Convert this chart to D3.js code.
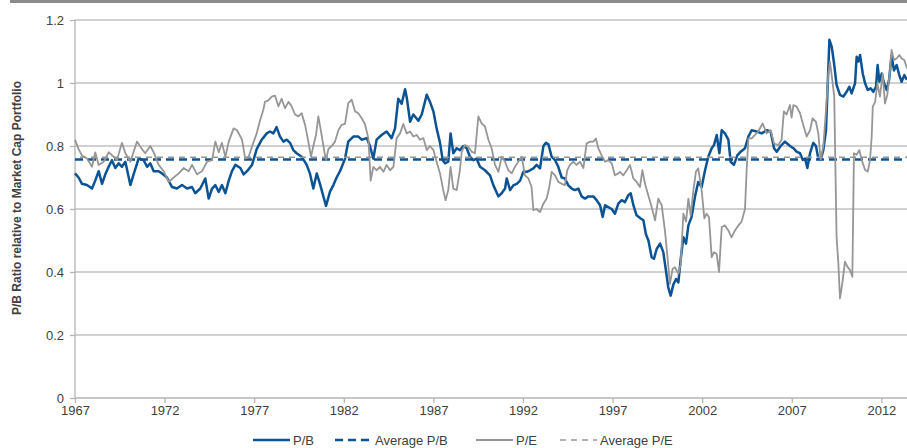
<!DOCTYPE html>
<html>
<head>
<meta charset="utf-8">
<script src="https://cdn.jsdelivr.net/npm/d3@7"></script>
<style>
  body { margin: 0; background: #fff; }
  text { font-family: "Liberation Sans", Arial, sans-serif; }
</style>
</head>
<body>
<div id="chart"></div>
<script>
// P/B relative to market cap portfolio, [year, value]
const pbData = [[1967.00,0.713],[1967.20,0.70],[1967.39,0.68],[1967.67,0.676],[1967.95,0.665],[1968.13,0.69],[1968.32,0.72],[1968.51,0.68],[1968.69,0.71],[1968.88,0.734],[1969.06,0.755],[1969.25,0.73],[1969.44,0.745],[1969.62,0.734],[1969.81,0.75],[1970.09,0.676],[1970.27,0.71],[1970.55,0.76],[1970.83,0.755],[1971.02,0.734],[1971.20,0.745],[1971.39,0.72],[1971.67,0.72],[1971.85,0.713],[1972.13,0.70],[1972.41,0.67],[1972.69,0.665],[1972.97,0.676],[1973.25,0.665],[1973.53,0.67],[1973.71,0.65],[1973.99,0.665],[1974.27,0.697],[1974.46,0.633],[1974.65,0.665],[1974.83,0.676],[1975.02,0.654],[1975.20,0.676],[1975.39,0.65],[1975.58,0.69],[1975.76,0.72],[1975.95,0.74],[1976.23,0.73],[1976.41,0.71],[1976.60,0.72],[1976.88,0.74],[1977.14,0.79],[1977.42,0.82],[1977.70,0.84],[1977.88,0.846],[1978.07,0.84],[1978.25,0.86],[1978.44,0.83],[1978.63,0.814],[1978.81,0.82],[1979.00,0.81],[1979.18,0.787],[1979.37,0.777],[1979.65,0.766],[1979.93,0.74],[1980.11,0.713],[1980.30,0.665],[1980.49,0.713],[1980.67,0.68],[1980.86,0.64],[1981.01,0.61],[1981.23,0.655],[1981.42,0.676],[1981.60,0.70],[1981.79,0.72],[1982.07,0.76],[1982.25,0.814],[1982.53,0.83],[1982.81,0.83],[1983.00,0.82],[1983.28,0.825],[1983.46,0.80],[1983.65,0.76],[1983.83,0.82],[1984.11,0.835],[1984.39,0.846],[1984.67,0.825],[1984.86,0.856],[1985.04,0.95],[1985.23,0.934],[1985.42,0.98],[1985.51,0.955],[1985.70,0.877],[1985.88,0.90],[1986.16,0.88],[1986.35,0.90],[1986.63,0.963],[1986.81,0.94],[1987.00,0.91],[1987.18,0.856],[1987.37,0.81],[1987.52,0.755],[1987.65,0.745],[1987.83,0.75],[1987.96,0.84],[1988.11,0.777],[1988.30,0.793],[1988.48,0.787],[1988.67,0.80],[1988.86,0.793],[1989.04,0.766],[1989.23,0.755],[1989.41,0.76],[1989.60,0.734],[1989.88,0.723],[1990.16,0.707],[1990.35,0.675],[1990.63,0.64],[1990.81,0.65],[1991.00,0.665],[1991.09,0.697],[1991.28,0.66],[1991.46,0.675],[1991.65,0.68],[1991.84,0.69],[1992.02,0.718],[1992.21,0.718],[1992.39,0.723],[1992.58,0.729],[1992.76,0.74],[1992.95,0.729],[1993.14,0.80],[1993.28,0.81],[1993.42,0.805],[1993.60,0.766],[1993.79,0.755],[1993.97,0.734],[1994.16,0.70],[1994.34,0.697],[1994.53,0.675],[1994.72,0.665],[1994.90,0.66],[1995.09,0.665],[1995.27,0.64],[1995.46,0.633],[1995.65,0.64],[1995.93,0.64],[1996.11,0.628],[1996.30,0.612],[1996.45,0.575],[1996.58,0.612],[1996.76,0.606],[1996.95,0.60],[1997.13,0.585],[1997.32,0.617],[1997.51,0.628],[1997.69,0.622],[1997.88,0.644],[1998.01,0.65],[1998.16,0.612],[1998.34,0.58],[1998.57,0.57],[1998.72,0.564],[1998.86,0.52],[1999.00,0.50],[1999.18,0.447],[1999.31,0.442],[1999.46,0.473],[1999.65,0.49],[1999.83,0.463],[1999.98,0.404],[2000.11,0.35],[2000.24,0.325],[2000.39,0.36],[2000.54,0.378],[2000.67,0.367],[2000.80,0.44],[2000.95,0.51],[2001.10,0.49],[2001.23,0.548],[2001.41,0.575],[2001.60,0.64],[2001.78,0.686],[2001.97,0.67],[2002.16,0.723],[2002.34,0.766],[2002.53,0.793],[2002.66,0.803],[2002.81,0.835],[2002.96,0.777],[2003.09,0.85],[2003.27,0.84],[2003.46,0.82],[2003.59,0.75],[2003.77,0.74],[2003.96,0.77],[2004.15,0.782],[2004.39,0.793],[2004.58,0.83],[2004.76,0.85],[2005.04,0.846],[2005.32,0.84],[2005.60,0.85],[2005.82,0.846],[2006.01,0.793],[2006.16,0.782],[2006.38,0.80],[2006.62,0.814],[2006.90,0.80],[2007.09,0.793],[2007.27,0.782],[2007.46,0.777],[2007.61,0.756],[2007.74,0.76],[2007.87,0.73],[2008.02,0.777],[2008.20,0.81],[2008.35,0.80],[2008.48,0.76],[2008.61,0.756],[2008.76,0.787],[2008.91,0.85],[2008.98,0.957],[2009.10,1.137],[2009.23,1.115],[2009.36,1.062],[2009.50,0.994],[2009.69,0.962],[2009.88,0.957],[2010.06,0.972],[2010.21,0.988],[2010.34,0.967],[2010.53,0.999],[2010.62,1.083],[2010.71,1.068],[2010.81,1.089],[2010.96,1.03],[2011.09,0.999],[2011.24,0.978],[2011.40,0.983],[2011.55,0.972],[2011.70,0.988],[2011.79,1.057],[2011.89,1.004],[2012.02,1.03],[2012.15,0.999],[2012.30,0.978],[2012.43,1.01],[2012.57,1.089],[2012.70,1.04],[2012.85,1.057],[2013.00,1.025],[2013.13,1.004],[2013.28,1.025],[2013.43,1.01]];

// P/E relative to market cap portfolio, [year, value]
const peData = [[1967.00,0.82],[1967.20,0.79],[1967.39,0.77],[1967.67,0.76],[1967.95,0.734],[1968.13,0.78],[1968.32,0.74],[1968.60,0.75],[1968.88,0.78],[1969.16,0.766],[1969.34,0.755],[1969.62,0.81],[1969.81,0.777],[1970.09,0.75],[1970.46,0.814],[1970.74,0.79],[1970.92,0.777],[1971.20,0.80],[1971.39,0.78],[1971.67,0.74],[1971.95,0.72],[1972.23,0.686],[1972.51,0.70],[1972.79,0.713],[1973.06,0.73],[1973.34,0.72],[1973.53,0.74],[1973.81,0.71],[1974.09,0.72],[1974.37,0.75],[1974.65,0.755],[1974.83,0.814],[1975.02,0.78],[1975.20,0.81],[1975.39,0.766],[1975.58,0.814],[1975.85,0.856],[1976.04,0.85],[1976.32,0.82],[1976.50,0.76],[1976.69,0.766],[1976.95,0.81],[1977.14,0.84],[1977.32,0.88],[1977.51,0.915],[1977.60,0.94],[1977.79,0.945],[1977.98,0.957],[1978.16,0.96],[1978.35,0.926],[1978.53,0.95],[1978.72,0.92],[1978.91,0.94],[1979.09,0.926],[1979.28,0.90],[1979.46,0.894],[1979.65,0.904],[1979.84,0.867],[1980.02,0.814],[1980.17,0.766],[1980.30,0.80],[1980.45,0.835],[1980.58,0.894],[1980.73,0.846],[1980.90,0.787],[1981.01,0.755],[1981.14,0.79],[1981.32,0.80],[1981.51,0.814],[1981.70,0.85],[1981.88,0.867],[1982.07,0.87],[1982.25,0.936],[1982.44,0.947],[1982.63,0.91],[1982.81,0.904],[1983.00,0.888],[1983.18,0.87],[1983.37,0.825],[1983.50,0.69],[1983.65,0.734],[1983.83,0.723],[1984.02,0.734],[1984.21,0.718],[1984.39,0.74],[1984.58,0.723],[1984.77,0.734],[1984.95,0.825],[1985.14,0.84],[1985.32,0.87],[1985.51,0.84],[1985.70,0.846],[1985.88,0.83],[1986.07,0.835],[1986.25,0.82],[1986.44,0.825],[1986.63,0.787],[1986.81,0.80],[1987.00,0.787],[1987.18,0.75],[1987.37,0.713],[1987.55,0.66],[1987.68,0.628],[1987.83,0.66],[1987.96,0.734],[1988.11,0.665],[1988.30,0.66],[1988.48,0.723],[1988.58,0.782],[1988.76,0.803],[1988.95,0.797],[1989.14,0.782],[1989.32,0.777],[1989.51,0.894],[1989.69,0.872],[1989.88,0.862],[1990.07,0.82],[1990.25,0.793],[1990.44,0.74],[1990.63,0.718],[1990.81,0.766],[1991.00,0.75],[1991.18,0.723],[1991.37,0.713],[1991.55,0.734],[1991.74,0.75],[1991.93,0.766],[1992.11,0.707],[1992.30,0.697],[1992.48,0.67],[1992.58,0.596],[1992.76,0.60],[1992.95,0.59],[1993.14,0.617],[1993.32,0.633],[1993.47,0.67],[1993.60,0.718],[1993.79,0.707],[1993.97,0.686],[1994.16,0.68],[1994.34,0.676],[1994.47,0.723],[1994.62,0.74],[1994.81,0.75],[1994.99,0.74],[1995.18,0.75],[1995.37,0.73],[1995.55,0.808],[1995.74,0.814],[1995.93,0.814],[1996.07,0.824],[1996.20,0.793],[1996.39,0.77],[1996.58,0.75],[1996.76,0.755],[1996.95,0.745],[1997.13,0.707],[1997.32,0.713],[1997.41,0.718],[1997.60,0.707],[1997.79,0.723],[1997.97,0.74],[1998.16,0.697],[1998.34,0.686],[1998.53,0.67],[1998.66,0.723],[1998.81,0.68],[1998.99,0.644],[1999.18,0.606],[1999.37,0.564],[1999.55,0.633],[1999.74,0.612],[1999.92,0.532],[2000.05,0.457],[2000.20,0.362],[2000.35,0.41],[2000.48,0.415],[2000.67,0.394],[2000.80,0.425],[2000.95,0.585],[2001.10,0.56],[2001.23,0.633],[2001.36,0.58],[2001.51,0.66],[2001.65,0.718],[2001.78,0.729],[2001.97,0.66],[2002.12,0.57],[2002.25,0.585],[2002.38,0.574],[2002.53,0.447],[2002.66,0.463],[2002.81,0.457],[2002.94,0.40],[2003.09,0.543],[2003.27,0.548],[2003.46,0.532],[2003.64,0.51],[2003.83,0.532],[2004.02,0.548],[2004.20,0.56],[2004.39,0.60],[2004.48,0.723],[2004.58,0.824],[2004.76,0.824],[2004.95,0.835],[2005.13,0.846],[2005.37,0.872],[2005.60,0.84],[2005.82,0.85],[2006.01,0.808],[2006.25,0.803],[2006.43,0.82],[2006.56,0.91],[2006.71,0.90],[2006.90,0.93],[2006.99,0.89],[2007.09,0.93],[2007.27,0.925],[2007.46,0.904],[2007.64,0.867],[2007.83,0.83],[2008.02,0.85],[2008.16,0.888],[2008.35,0.877],[2008.48,0.84],[2008.61,0.756],[2008.76,0.80],[2008.91,0.914],[2009.04,1.03],[2009.13,1.068],[2009.26,1.01],[2009.37,0.957],[2009.50,0.512],[2009.60,0.427],[2009.69,0.316],[2009.82,0.364],[2009.97,0.433],[2010.10,0.417],[2010.25,0.406],[2010.38,0.385],[2010.47,0.777],[2010.62,0.772],[2010.77,0.787],[2010.90,0.756],[2011.09,0.724],[2011.24,0.719],[2011.37,0.756],[2011.46,0.83],[2011.52,0.925],[2011.65,0.94],[2011.78,0.999],[2011.92,0.957],[2012.07,1.03],[2012.20,0.935],[2012.33,0.962],[2012.48,1.04],[2012.57,1.105],[2012.70,1.073],[2012.85,1.078],[2013.00,1.089],[2013.13,1.078],[2013.28,1.073],[2013.43,1.046]];

const avgPB = 0.757;
const avgPE = 0.764;
const yTicks = [0, 0.2, 0.4, 0.6, 0.8, 1, 1.2];
const xTicks = [1967, 1972, 1977, 1982, 1987, 1992, 1997, 2002, 2007, 2012];
const legendItems = [
  { label: "P/B", color: "#0b5394", width: 2.5, dash: null },
  { label: "Average P/B", color: "#0b5394", width: 2.5, dash: "8,5" },
  { label: "P/E", color: "#969696", width: 2, dash: null },
  { label: "Average P/E", color: "#969696", width: 1.5, dash: "6,5" }
];

let svgWidth = 907;
let svgHeight = 448;
let margin = { top: 20, right: 0, bottom: 50, left: 75 };
let width = svgWidth - margin.left - margin.right;
let height = svgHeight - margin.top - margin.bottom;

let svg = d3.select("#chart").append("svg")
  .attr("width", svgWidth)
  .attr("height", svgHeight);

// gray strip along the top
svg.append("rect")
  .attr("x", 10).attr("y", 0)
  .attr("width", svgWidth - 10).attr("height", 3)
  .attr("fill", "#8c8c8c");

let chartGroup = svg.append("g")
  .attr("transform", `translate(${margin.left}, ${margin.top})`);

let xScale = d3.scaleLinear().domain([1967, 2013.43]).range([0, width]);
let yScale = d3.scaleLinear().domain([0, 1.2]).range([height, 0]);

// gridlines
chartGroup.selectAll(".grid")
  .data(yTicks.filter(d => d > 0))
  .enter().append("line")
  .attr("x1", 0).attr("x2", width)
  .attr("y1", d => yScale(d)).attr("y2", d => yScale(d))
  .attr("stroke", "#c0c0c0")
  .attr("stroke-width", 1.3);

// axes
let leftAxis = d3.axisLeft(yScale).tickValues(yTicks)
  .tickFormat(d => d3.format("~g")(d)).tickSize(5).tickPadding(6);
let bottomAxis = d3.axisBottom(xScale).tickValues(xTicks)
  .tickFormat(d3.format("d")).tickSize(5).tickPadding(3);

let yAxis = chartGroup.append("g").call(leftAxis);
let xAxis = chartGroup.append("g")
  .attr("transform", `translate(0, ${height})`)
  .call(bottomAxis);

[yAxis, xAxis].forEach(ax => {
  ax.select(".domain").attr("stroke", "#b4b4b4").attr("stroke-width", 1.3);
  ax.selectAll(".tick line").attr("stroke", "#b4b4b4").attr("stroke-width", 1.3);
  ax.selectAll(".tick text")
    .attr("fill", "#404040")
    .style("font-size", "13px")
    .style("font-family", "'Liberation Sans', Arial, sans-serif");
});
xAxis.select(".domain").attr("d", `M0,0H${width}`);
yAxis.select(".domain").attr("d", `M0,${height}V0`);

// series
let line = d3.line().x(d => xScale(d[0])).y(d => yScale(d[1]));

chartGroup.append("path")
  .datum(pbData)
  .attr("d", line)
  .attr("fill", "none")
  .attr("stroke", legendItems[0].color)
  .attr("stroke-width", 2.5)
  .attr("stroke-linejoin", "round");

chartGroup.append("line")
  .attr("x1", 0).attr("x2", width)
  .attr("y1", yScale(avgPB)).attr("y2", yScale(avgPB))
  .attr("stroke", legendItems[1].color)
  .attr("stroke-width", 2.5)
  .attr("stroke-dasharray", "8,5");

chartGroup.append("path")
  .datum(peData)
  .attr("d", line)
  .attr("fill", "none")
  .attr("stroke", legendItems[2].color)
  .attr("stroke-width", 1.8)
  .attr("stroke-linejoin", "round");

chartGroup.append("line")
  .attr("x1", 0).attr("x2", width)
  .attr("y1", yScale(avgPE)).attr("y2", yScale(avgPE))
  .attr("stroke", legendItems[3].color)
  .attr("stroke-width", 1.5)
  .attr("stroke-dasharray", "6,5")
  .attr("stroke-dashoffset", 6);

// y axis title
svg.append("text")
  .attr("transform", `translate(21, 198) rotate(-90)`)
  .attr("text-anchor", "middle")
  .attr("fill", "#404040")
  .style("font-size", "12px")
  .style("font-weight", "bold")
  .text("P/B Ratio relative to Market Cap Portfolio");

// legend
let legendX = [253, 335, 476, 560];
let legend = svg.append("g").attr("transform", "translate(0, 440)");
legendItems.forEach((item, i) => {
  legend.append("line")
    .attr("x1", legendX[i]).attr("x2", legendX[i] + 37)
    .attr("y1", 0).attr("y2", 0)
    .attr("stroke", item.color)
    .attr("stroke-width", item.width)
    .attr("stroke-dasharray", item.dash);
  legend.append("text")
    .attr("x", legendX[i] + 40)
    .attr("y", 4.5)
    .attr("fill", "#404040")
    .style("font-size", "13px")
    .text(item.label);
});
</script>
</body>
</html>
